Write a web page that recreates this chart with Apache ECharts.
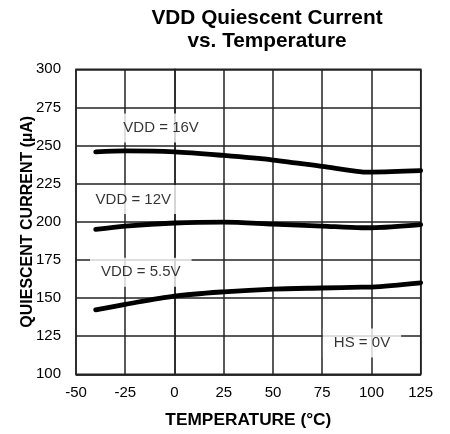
<!DOCTYPE html>
<html>
<head>
<meta charset="utf-8">
<script src="https://cdn.jsdelivr.net/npm/echarts@6/dist/echarts.min.js"></script>
<style>
html,body{margin:0;padding:0;background:#fff;}
#c{width:450px;height:434px;}
</style>
</head>
<body>
<div id="c"></div>
<script>
// ---- data ----
var temperatures = [-40, -25, 0, 25, 50, 75, 95, 100, 125];
var vdd16 = [245.9, 246.5, 245.9, 243.5, 240.5, 236.3, 232.8, 232.6, 233.5];
var vdd12 = [195.0, 197.2, 199.2, 199.8, 198.5, 197.2, 196.1, 196.1, 198.1];
var vdd55 = [142.3, 145.9, 151.3, 154.1, 155.9, 156.6, 157.1, 157.2, 160.0];
var xTicks = [-50, -25, 0, 25, 50, 75, 100, 125];
var yTicks = [100, 125, 150, 175, 200, 225, 250, 275, 300];
var annotationText = ['VDD = 16V', 'VDD = 12V', 'VDD = 5.5V', 'HS = 0V'];
var annotationX = [-6.8, -20.9, -17.1, 95.2];
var annotationY = [261.5, 214.6, 166.9, 120.6];

var FONT = "'Liberation Sans', Arial, sans-serif";
function pairs(xs, ys){ return xs.map(function(x,i){ return [x, ys[i]]; }); }
function curve(name, ys){
  return {
    name: name, type: 'line', data: pairs(temperatures, ys),
    smooth: 0.3, showSymbol: false, symbol: 'none', silent: true,
    lineStyle: { color: '#000', width: 4.8, cap: 'round' }, z: 3
  };
}
var annData = annotationText.map(function(t,i){ return { value: [annotationX[i], annotationY[i]], name: t }; });

var chart = echarts.init(document.getElementById('c'), null, { renderer: 'canvas' });
chart.setOption({
  animation: false,
  backgroundColor: '#fff',
  title: {
    text: 'VDD Quiescent Current\nvs. Temperature',
    left: 262, top: 2, textAlign: 'center',
    textStyle: { fontFamily: FONT, fontSize: 20.8, fontWeight: 'bold', color: '#000', lineHeight: 23 }
  },
  grid: { left: 76, right: 29.3, top: 69.3, bottom: 59.7, show: true, borderColor: '#222', borderWidth: 1.5, containLabel: false },
  xAxis: {
    type: 'value', min: xTicks[0], max: xTicks[xTicks.length-1], interval: 25,
    name: 'TEMPERATURE (°C)', nameLocation: 'middle', nameGap: 37, nameMoveOverlap: false,
    nameTextStyle: { fontFamily: FONT, fontSize: 17.3, fontWeight: 'bold', color: '#000' },
    axisLine: { show: true, lineStyle: { color: '#222', width: 1.5 } },
    axisTick: { show: false },
    axisLabel: { fontFamily: FONT, fontSize: 15, color: '#000', margin: 11 },
    splitLine: { show: true, lineStyle: { color: '#222', width: 1.5 } }
  },
  yAxis: {
    type: 'value', min: yTicks[0], max: yTicks[yTicks.length-1], interval: 25,
    name: 'QUIESCENT CURRENT (µA)', nameLocation: 'middle', nameGap: 40, nameRotate: 90, nameMoveOverlap: false,
    nameTextStyle: { fontFamily: FONT, fontSize: 16, fontWeight: 'bold', color: '#000' },
    axisLine: { show: true, lineStyle: { color: '#222', width: 1.5 } },
    axisTick: { show: false },
    axisLabel: { fontFamily: FONT, fontSize: 15, color: '#000', margin: 15 },
    splitLine: { show: true, lineStyle: { color: '#222', width: 1.5 } }
  },
  series: [
    curve('VDD = 16V', vdd16),
    curve('VDD = 12V', vdd12),
    curve('VDD = 5.5V', vdd55),
    {
      type: 'scatter', data: annData, symbolSize: 0, silent: true, z: 4,
      label: {
        show: true, position: 'inside', formatter: function(p){ return p.name; },
        fontFamily: FONT, fontSize: 15, color: '#000',
        backgroundColor: '#fff', padding: [7, 11]
      }
    }
  ]
});
</script>
</body>
</html>
